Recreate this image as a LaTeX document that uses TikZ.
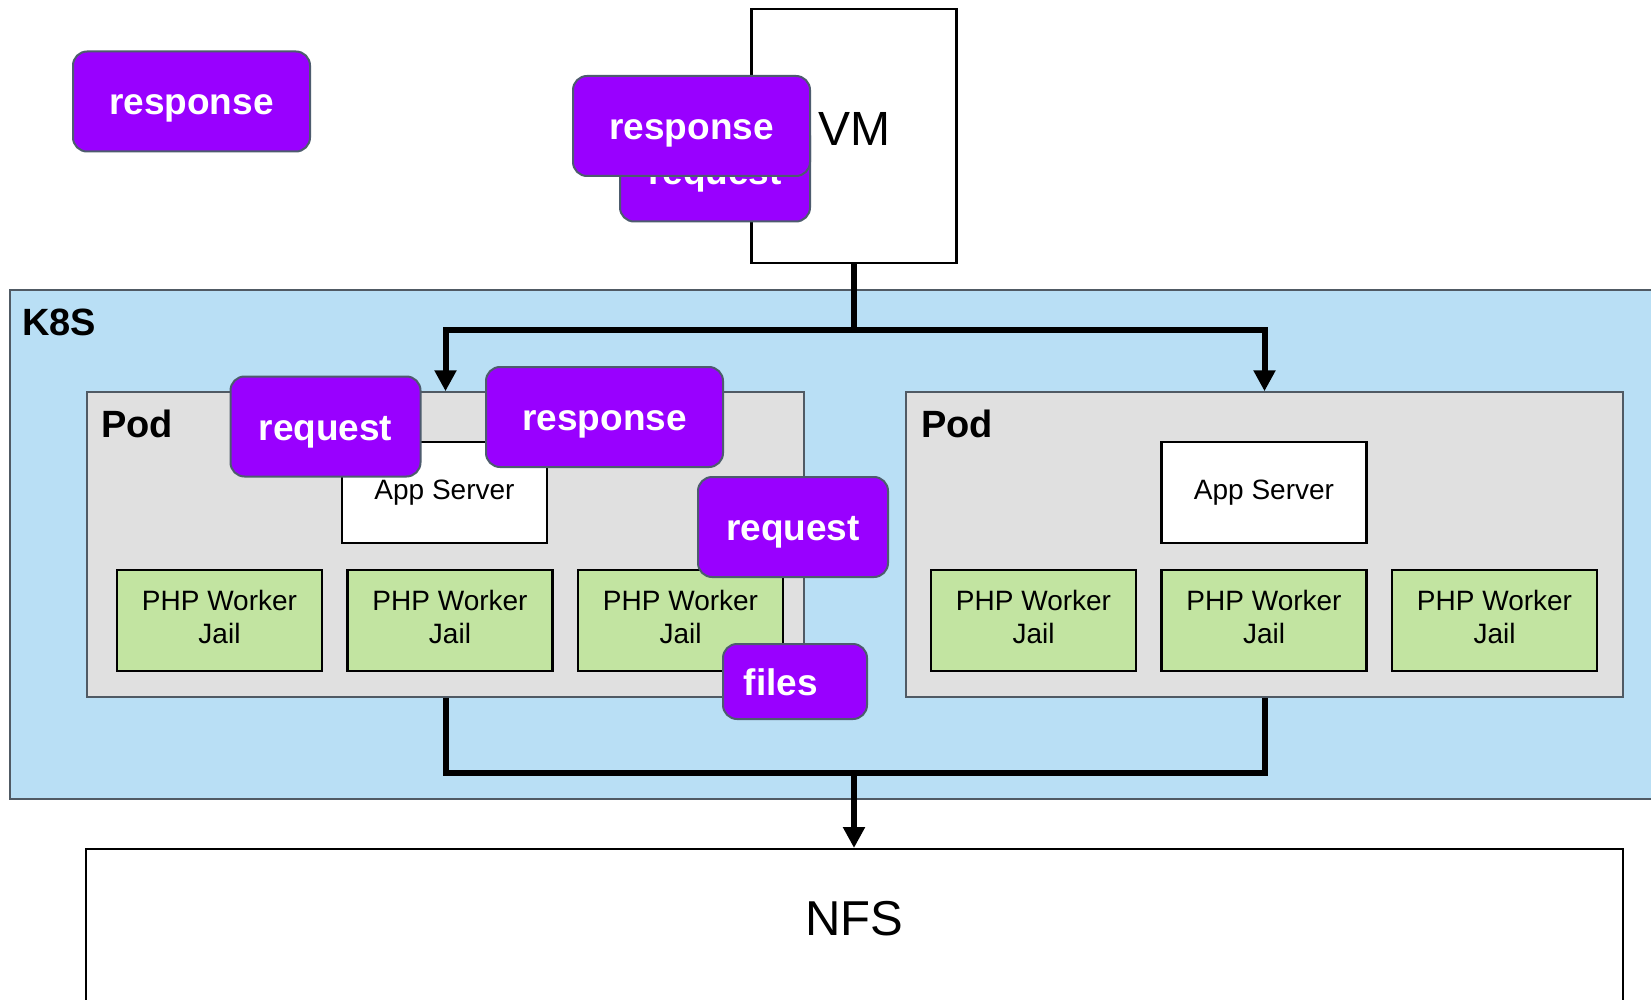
\documentclass[tikz,border=0pt]{standalone}
\usepackage{fontspec}
\setmainfont{Liberation Sans}
\usetikzlibrary{arrows.meta}

\definecolor{tagfill}{HTML}{9900FF}
\definecolor{tagedge}{RGB}{77,92,110}
\definecolor{clusterfill}{RGB}{185,223,245}
\definecolor{clusteredge}{RGB}{80,90,100}
\definecolor{podfill}{RGB}{224,224,224}
\definecolor{workerfill}{RGB}{194,228,161}

\tikzset{
  tag/.style={draw=tagedge, line width=2pt, fill=tagfill, rounded corners=14pt,
    text=white, font=\bfseries\fontsize{37}{44}\selectfont, inner sep=0pt,
    text height=32pt, text depth=5pt},
  resptag/.style={tag, minimum width=237pt, minimum height=100pt},
  reqtag/.style={tag, minimum width=190pt, minimum height=100pt},
  cluster/.style={draw=clusteredge, line width=1.5pt, fill=clusterfill},
  podbox/.style={draw=clusteredge, line width=1.5pt, fill=podfill,
    minimum width=717pt, minimum height=305pt, inner sep=0pt},
  appbox/.style={draw=black, line width=2.5pt, fill=white,
    minimum width=205pt, minimum height=101pt, inner sep=0pt,
    font=\fontsize{28}{32}\selectfont},
  workerbox/.style={draw=black, line width=2.5pt, fill=workerfill,
    minimum width=205pt, minimum height=101pt, inner sep=0pt, align=center,
    font=\fontsize{28}{33.5}\selectfont},
  title/.style={font=\bfseries\fontsize{38}{44}\selectfont, anchor=base west, inner sep=0pt},
  conn/.style={draw=black, line width=6pt},
  flow/.style={conn, -{Triangle[length=21pt,width=21pt]}},
}

\newcommand{\jailtext}{PHP Worker\\Jail\rule[-7pt]{0pt}{1pt}}

\begin{document}
\begin{tikzpicture}[x=1pt,y=-1pt]
  \useasboundingbox (0,0) rectangle (1651,1000);
  \clip (0,0) rectangle (1651,1000);
  \fill[white] (0,0) rectangle (1651,1000);

  % cluster area
  \draw[cluster] (10,290) rectangle (1700,799);
  \node[title] (k8s) at (22,335) {K8S};

  % the two pods
  \node[podbox] (pod1) at (445.5,544.5) {};
  \node[podbox] (pod2) at (1264.5,544.5) {};
  \node[title] (podlabel1) at (101,437) {Pod};
  \node[title] (podlabel2) at (921,437) {Pod};

  % application servers
  \node[appbox] (app1) at (444.5,492.5) {App Server};
  \node[appbox] (app2) at (1264,492.5) {App Server};

  % PHP worker jails
  \node[workerbox] (w11) at (219.5,620.5) {\jailtext};
  \node[workerbox] (w12) at (450,620.5) {\jailtext};
  \node[workerbox] (w13) at (680.5,620.5) {\jailtext};
  \node[workerbox] (w21) at (1033.5,620.5) {\jailtext};
  \node[workerbox] (w22) at (1264,620.5) {\jailtext};
  \node[workerbox] (w23) at (1494.5,620.5) {\jailtext};

  % virtual machine and shared storage
  \node[draw=black, line width=2.5pt, fill=white, minimum width=205pt,
    minimum height=254pt, inner sep=0pt, font=\fontsize{48}{56}\selectfont,
    text height=34.4pt, text depth=16pt] (vm) at (854,136) {VM};
  \node[draw=black, line width=2pt, fill=white, minimum width=1537pt,
    minimum height=200pt, inner sep=0pt, font=\fontsize{49}{56}\selectfont,
    text height=35pt, text depth=63pt] (nfs) at (854.5,949) {NFS};

  % connectors
  \coordinate (split) at (854,330);
  \coordinate (merge) at (854,773);
  \draw[conn] (vm.south) -- (split);
  \draw[flow] (split) -| (pod1.north);
  \draw[flow] (split) -| (pod2.north);
  \draw[conn] (pod1.south) |- (merge) -| (pod2.south);
  \draw[flow] (merge) -- (merge |- nfs.north);

  % message tags
  \node[reqtag] (vmreq) at (715,171.5) {request};
  \node[resptag] (vmresp) at (691.5,126) {response};
  \node[resptag] (resp0) at (191.5,101.5) {response};
  \node[reqtag] (podreq) at (325.5,426.5) {request};
  \node[resptag] (podresp) at (604.5,417) {response};
  \node[reqtag] (jailreq) at (793,527) {request};
  \node[tag, minimum width=144pt, minimum height=75pt] (files) at (795,681.5) {files\kern28pt};
\end{tikzpicture}
\end{document}
